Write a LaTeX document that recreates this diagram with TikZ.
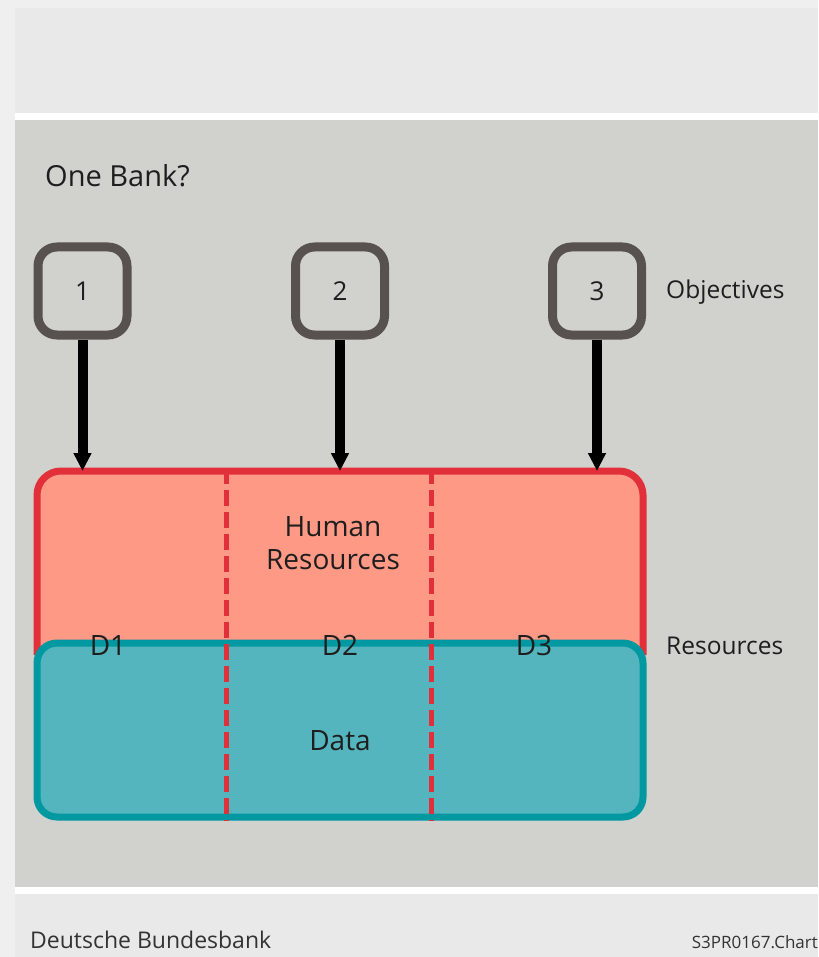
\documentclass[tikz,border=0pt]{standalone}
\usepackage{fontspec}
\setmainfont{Open Sans}
\usetikzlibrary{arrows.meta}
\definecolor{outerbg}{HTML}{EFEFEF}
\definecolor{bandbg}{HTML}{E9E9E9}
\definecolor{panelbg}{HTML}{D1D1CD}
\definecolor{boxgray}{HTML}{57524F}
\definecolor{hrred}{HTML}{E2303A}
\definecolor{hrfill}{HTML}{FE9985}
\definecolor{tealline}{HTML}{0098A1}
\definecolor{tealfill}{HTML}{55B5BE}
\definecolor{txt}{HTML}{1E1E1E}
\definecolor{foot}{HTML}{333333}
\tikzset{
  objbox/.style={draw=boxgray, line width=9pt, rounded corners=19pt, minimum width=89pt, minimum height=88pt, inner sep=0pt, text=txt, font=\fontsize{26}{30}\selectfont},
  hrarea/.style={minimum width=606pt, minimum height=184pt, inner sep=0pt, outer sep=0pt},
  hrshape/.style={draw=hrred, fill=hrfill, line width=7pt, rounded corners=24pt},
  databox/.style={draw=tealline, fill=tealfill, line width=7pt, rounded corners=20pt, minimum width=606pt, minimum height=174pt, inner sep=0pt},
  divider/.style={draw=hrred, line width=5pt, dash pattern=on 16pt off 6pt},
  objarrow/.style={draw=black, line width=10pt, -{Triangle[length=18pt,width=17pt]}},
  inlabel/.style={text=txt, font=\fontsize{28}{33}\selectfont, inner sep=0pt, align=center},
  sidelabel/.style={text=txt, font=\fontsize{24.5}{28}\selectfont, inner sep=0pt, anchor=west}
}
\begin{document}
\begin{tikzpicture}[x=1pt,y=-1pt]
\useasboundingbox (0,0) rectangle (818,957);
\fill[outerbg] (0,0) rectangle (818,957);
\fill[bandbg] (15,8) rectangle (818,113);
\fill[white] (15,113) rectangle (818,120);
\fill[panelbg] (15,120) rectangle (818,887);
\fill[white] (15,887) rectangle (818,894);
\fill[bandbg] (15,894) rectangle (818,957);

\node[text=txt, font=\fontsize{29}{33}\selectfont, inner sep=0pt, anchor=west] (title) at (45,176) {One Bank?};

\node[objbox] (o1) at (82.5,291) {1};
\node[objbox] (o2) at (340,291) {2};
\node[objbox] (o3) at (597,291) {3};
\node[sidelabel] (obj) at (666,292) {Objectives};

\node[hrarea] (hr) at (340,563) {};
\filldraw[hrshape] (hr.south west) -- (hr.north west) -- (hr.north east) -- (hr.south east);
\node[databox] (data) at (340,730) {};

\coordinate (d1t) at (226.5,468);
\coordinate (d1b) at (226.5,821);
\coordinate (d2t) at (431,468);
\coordinate (d2b) at (431,821);
\draw[divider] (d1t) -- (d1b);
\draw[divider] (d2t) -- (d2b);

\draw[objarrow] (o1.south) -- (o1.south |- hr.north);
\draw[objarrow] (o2.south) -- (o2.south |- hr.north);
\draw[objarrow] (o3.south) -- (o3.south |- hr.north);

\node[inlabel] (hrl) at (333,543) {Human\\Resources};
\node[inlabel] (dl) at (340,741) {Data};
\node[inlabel] (D1) at (108,645) {D1};
\node[inlabel] (D2) at (340,645) {D2};
\node[inlabel] (D3) at (534,645) {D3};
\node[sidelabel] (res) at (666,646) {Resources};

\node[text=foot, font=\fontsize{23}{27}\selectfont, inner sep=0pt, anchor=west] (bb) at (30,940) {Deutsche Bundesbank};
\node[text=foot, font=\fontsize{17}{20}\selectfont, inner sep=0pt, anchor=east] (code) at (818,942) {S3PR0167.Chart};
\end{tikzpicture}
\end{document}
